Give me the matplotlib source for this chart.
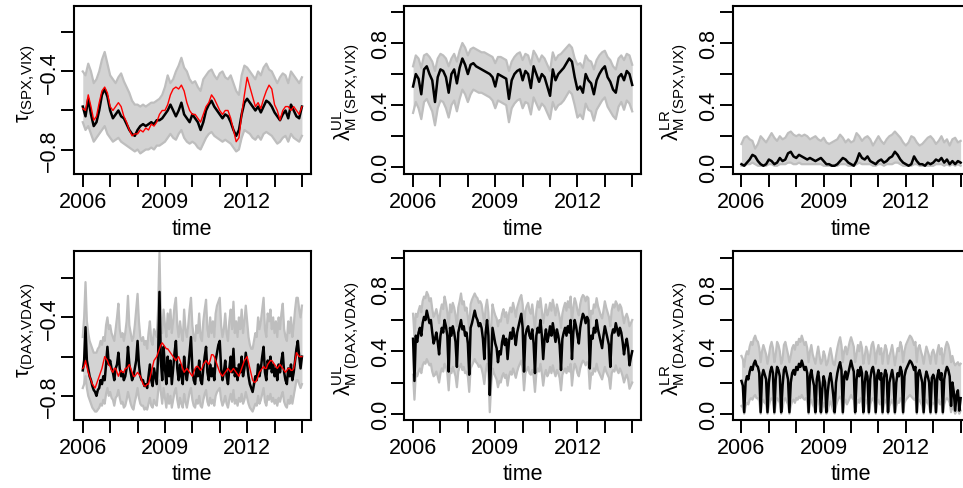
import numpy as np
import matplotlib
matplotlib.use("Agg")
import matplotlib.pyplot as plt

plt.rcParams['font.family'] = ['Liberation Sans', 'DejaVu Sans']
plt.rcParams['mathtext.fontset'] = 'custom'
plt.rcParams['mathtext.rm'] = 'Liberation Sans'
plt.rcParams['mathtext.it'] = 'Liberation Sans:italic'
plt.rcParams['mathtext.bf'] = 'Liberation Sans:bold'

# ---------------- data ----------------
time = np.linspace(2006.0, 2014.0, 81)        # 0.1-year grid (top row)
time_fine = np.linspace(2006.0, 2014.0, 161)  # 0.05-year grid (bottom row)

# panel 1: tau (SPX, VIX)
tau_spx_mid = [-0.58, -0.63, -0.54, -0.62, -0.68, -0.66, -0.60, -0.52, -0.49, -0.53,
               -0.60, -0.64, -0.62, -0.60, -0.63, -0.64, -0.67, -0.70, -0.72, -0.73,
               -0.70, -0.68, -0.67, -0.68, -0.67, -0.66, -0.67, -0.65, -0.65, -0.64,
               -0.62, -0.60, -0.57, -0.60, -0.63, -0.60, -0.56, -0.62, -0.64, -0.66,
               -0.62, -0.64, -0.66, -0.70, -0.66, -0.60, -0.57, -0.55, -0.58, -0.60,
               -0.62, -0.64, -0.62, -0.63, -0.66, -0.70, -0.73, -0.70, -0.62, -0.56,
               -0.54, -0.56, -0.58, -0.60, -0.58, -0.61, -0.58, -0.55, -0.56, -0.58,
               -0.61, -0.63, -0.65, -0.62, -0.60, -0.64, -0.57, -0.60, -0.63, -0.64,
               -0.58]
tau_spx_emp = [-0.59, -0.60, -0.52, -0.58, -0.65, -0.63, -0.56, -0.50, -0.48, -0.51,
               -0.58, -0.60, -0.58, -0.56, -0.58, -0.63, -0.66, -0.70, -0.73, -0.72,
               -0.72, -0.70, -0.71, -0.69, -0.70, -0.67, -0.68, -0.66, -0.62, -0.60,
               -0.60, -0.57, -0.52, -0.49, -0.48, -0.49, -0.47, -0.50, -0.56, -0.60,
               -0.62, -0.62, -0.64, -0.66, -0.62, -0.58, -0.56, -0.52, -0.54, -0.57,
               -0.60, -0.62, -0.60, -0.60, -0.64, -0.70, -0.76, -0.74, -0.62, -0.52,
               -0.43, -0.48, -0.53, -0.58, -0.56, -0.59, -0.54, -0.50, -0.47, -0.49,
               -0.57, -0.60, -0.65, -0.60, -0.58, -0.58, -0.60, -0.58, -0.60, -0.62,
               -0.58]
tau_spx_up = [-0.40, -0.42, -0.36, -0.40, -0.46, -0.44, -0.40, -0.34, -0.30, -0.36,
              -0.42, -0.44, -0.46, -0.43, -0.41, -0.45, -0.48, -0.51, -0.55, -0.57,
              -0.57, -0.58, -0.57, -0.58, -0.57, -0.56, -0.56, -0.55, -0.54, -0.52,
              -0.48, -0.42, -0.46, -0.44, -0.40, -0.37, -0.33, -0.38, -0.40, -0.44,
              -0.46, -0.45, -0.48, -0.50, -0.44, -0.42, -0.40, -0.39, -0.42, -0.44,
              -0.41, -0.40, -0.43, -0.44, -0.42, -0.46, -0.50, -0.52, -0.42, -0.37,
              -0.38, -0.40, -0.42, -0.44, -0.40, -0.42, -0.38, -0.36, -0.39, -0.40,
              -0.43, -0.46, -0.43, -0.41, -0.42, -0.46, -0.40, -0.42, -0.44, -0.46,
              -0.43]
tau_spx_lo = [-0.66, -0.70, -0.68, -0.72, -0.76, -0.74, -0.72, -0.70, -0.68, -0.72,
              -0.74, -0.76, -0.75, -0.74, -0.76, -0.77, -0.78, -0.79, -0.80, -0.81,
              -0.80, -0.82, -0.81, -0.80, -0.80, -0.79, -0.80, -0.78, -0.78, -0.77,
              -0.76, -0.74, -0.72, -0.74, -0.75, -0.72, -0.70, -0.74, -0.76, -0.77,
              -0.76, -0.77, -0.79, -0.80, -0.77, -0.74, -0.72, -0.71, -0.73, -0.74,
              -0.75, -0.76, -0.75, -0.76, -0.77, -0.79, -0.81, -0.80, -0.74, -0.70,
              -0.71, -0.72, -0.74, -0.75, -0.73, -0.75, -0.72, -0.71, -0.72, -0.73,
              -0.75, -0.77, -0.76, -0.74, -0.73, -0.76, -0.72, -0.74, -0.75, -0.76,
              -0.73]

# panel 2: upper tail dependence (SPX, VIX)
ul_spx_mid = [0.52, 0.60, 0.57, 0.47, 0.63, 0.65, 0.60, 0.56, 0.42, 0.58,
              0.63, 0.62, 0.58, 0.48, 0.60, 0.63, 0.54, 0.64, 0.70, 0.66,
              0.60, 0.66, 0.67, 0.65, 0.64, 0.63, 0.62, 0.61, 0.60, 0.58,
              0.52, 0.60, 0.59, 0.58, 0.57, 0.44, 0.56, 0.60, 0.62, 0.63,
              0.56, 0.62, 0.60, 0.51, 0.65, 0.60, 0.55, 0.60, 0.58, 0.52,
              0.46, 0.63, 0.56, 0.60, 0.62, 0.64, 0.67, 0.70, 0.68, 0.58,
              0.50, 0.52, 0.48, 0.60, 0.56, 0.54, 0.47, 0.56, 0.60, 0.63,
              0.65, 0.58, 0.55, 0.50, 0.48, 0.58, 0.60, 0.56, 0.62, 0.60,
              0.53]
ul_spx_up = [0.65, 0.72, 0.70, 0.64, 0.72, 0.73, 0.71, 0.68, 0.62, 0.70,
             0.73, 0.72, 0.70, 0.65, 0.70, 0.73, 0.68, 0.75, 0.80, 0.77,
             0.72, 0.76, 0.77, 0.76, 0.75, 0.74, 0.74, 0.73, 0.72, 0.71,
             0.67, 0.71, 0.71, 0.70, 0.69, 0.62, 0.68, 0.71, 0.73, 0.74,
             0.69, 0.73, 0.72, 0.66, 0.75, 0.72, 0.68, 0.72, 0.70, 0.66,
             0.62, 0.74, 0.69, 0.72, 0.73, 0.75, 0.77, 0.79, 0.77, 0.70,
             0.66, 0.67, 0.64, 0.72, 0.69, 0.68, 0.63, 0.69, 0.72, 0.74,
             0.75, 0.71, 0.69, 0.65, 0.63, 0.70, 0.72, 0.69, 0.73, 0.72,
             0.66]
ul_spx_lo = [0.35, 0.42, 0.38, 0.31, 0.42, 0.44, 0.40, 0.36, 0.27, 0.38,
             0.43, 0.42, 0.38, 0.32, 0.40, 0.43, 0.36, 0.44, 0.50, 0.47,
             0.42, 0.47, 0.50, 0.49, 0.48, 0.48, 0.47, 0.46, 0.45, 0.43,
             0.38, 0.43, 0.42, 0.41, 0.40, 0.29, 0.38, 0.41, 0.43, 0.44,
             0.38, 0.42, 0.41, 0.34, 0.45, 0.41, 0.37, 0.41, 0.39, 0.35,
             0.31, 0.42, 0.37, 0.40, 0.41, 0.43, 0.46, 0.49, 0.47, 0.40,
             0.32, 0.34, 0.31, 0.41, 0.37, 0.36, 0.30, 0.37, 0.40, 0.43,
             0.45, 0.39, 0.36, 0.33, 0.31, 0.39, 0.42, 0.37, 0.43, 0.41,
             0.36]

# panel 3: lower tail dependence (SPX, VIX)
lr_spx_mid = [0.02, 0.01, 0.03, 0.05, 0.08, 0.07, 0.04, 0.02, 0.01, 0.02,
              0.05, 0.04, 0.02, 0.03, 0.06, 0.04, 0.05, 0.09, 0.10, 0.07,
              0.06, 0.08, 0.07, 0.06, 0.05, 0.06, 0.05, 0.04, 0.05, 0.06,
              0.04, 0.02, 0.02, 0.01, 0.01, 0.02, 0.04, 0.06, 0.05, 0.03,
              0.02, 0.01, 0.04, 0.09, 0.06, 0.05, 0.07, 0.04, 0.03, 0.02,
              0.04, 0.05, 0.03, 0.04, 0.06, 0.07, 0.10, 0.08, 0.05, 0.03,
              0.02, 0.01, 0.02, 0.07, 0.04, 0.02, 0.02, 0.01, 0.03, 0.02,
              0.03, 0.05, 0.04, 0.06, 0.03, 0.05, 0.02, 0.04, 0.02, 0.04,
              0.03]
lr_spx_up = [0.15, 0.19, 0.20, 0.18, 0.17, 0.12, 0.15, 0.20, 0.18, 0.16,
             0.19, 0.22, 0.19, 0.17, 0.20, 0.18, 0.19, 0.22, 0.23, 0.21,
             0.20, 0.21, 0.20, 0.21, 0.20, 0.18, 0.19, 0.20, 0.18, 0.17,
             0.19, 0.16, 0.15, 0.16, 0.17, 0.18, 0.21, 0.19, 0.16, 0.18,
             0.16, 0.17, 0.22, 0.20, 0.17, 0.19, 0.20, 0.18, 0.14, 0.17,
             0.20, 0.17, 0.15, 0.18, 0.20, 0.21, 0.23, 0.21, 0.19, 0.16,
             0.14, 0.16, 0.20, 0.19, 0.16, 0.14, 0.15, 0.17, 0.19, 0.20,
             0.18, 0.15, 0.17, 0.20, 0.16, 0.18, 0.14, 0.18, 0.19, 0.16,
             0.17]
lr_spx_lo = [0.01, 0.01, 0.02, 0.02, 0.03, 0.02, 0.01, 0.01, 0.01, 0.01,
             0.02, 0.02, 0.01, 0.01, 0.02, 0.02, 0.02, 0.03, 0.03, 0.02,
             0.02, 0.03, 0.02, 0.02, 0.02, 0.02, 0.02, 0.02, 0.02, 0.02,
             0.01, 0.01, 0.01, 0.01, 0.01, 0.01, 0.02, 0.02, 0.02, 0.01,
             0.01, 0.01, 0.02, 0.03, 0.02, 0.02, 0.02, 0.02, 0.01, 0.01,
             0.02, 0.02, 0.01, 0.02, 0.02, 0.02, 0.03, 0.03, 0.02, 0.01,
             0.01, 0.01, 0.01, 0.02, 0.02, 0.01, 0.01, 0.01, 0.01, 0.01,
             0.01, 0.02, 0.02, 0.02, 0.01, 0.02, 0.01, 0.02, 0.01, 0.02,
             0.01]

# panel 4: tau (DAX, VDAX)  (0.05-year grid)
tau_dax_mid = [-0.67, -0.62, -0.45, -0.62, -0.66, -0.70, -0.72, -0.75, -0.77, -0.78,
               -0.80, -0.77, -0.76, -0.72, -0.74, -0.70, -0.72, -0.64, -0.55, -0.64,
               -0.62, -0.66, -0.68, -0.72, -0.66, -0.64, -0.58, -0.66, -0.70, -0.68,
               -0.72, -0.70, -0.66, -0.55, -0.64, -0.68, -0.72, -0.70, -0.66, -0.62,
               -0.52, -0.64, -0.70, -0.72, -0.72, -0.75, -0.74, -0.76, -0.70, -0.64,
               -0.72, -0.75, -0.66, -0.70, -0.74, -0.60, -0.27, -0.62, -0.72, -0.55,
               -0.66, -0.74, -0.60, -0.70, -0.62, -0.74, -0.66, -0.58, -0.52, -0.66,
               -0.72, -0.64, -0.70, -0.74, -0.60, -0.68, -0.72, -0.66, -0.58, -0.50,
               -0.66, -0.72, -0.74, -0.66, -0.70, -0.62, -0.72, -0.74, -0.66, -0.60,
               -0.55, -0.68, -0.72, -0.64, -0.70, -0.66, -0.72, -0.62, -0.58, -0.54,
               -0.52, -0.66, -0.72, -0.68, -0.62, -0.70, -0.74, -0.66, -0.60, -0.68,
               -0.56, -0.70, -0.66, -0.72, -0.64, -0.68, -0.60, -0.70, -0.66, -0.58,
               -0.64, -0.70, -0.74, -0.76, -0.78, -0.74, -0.70, -0.72, -0.64, -0.70,
               -0.66, -0.60, -0.55, -0.68, -0.72, -0.62, -0.66, -0.60, -0.68, -0.64,
               -0.70, -0.66, -0.72, -0.64, -0.68, -0.62, -0.58, -0.68, -0.72, -0.74,
               -0.66, -0.70, -0.64, -0.72, -0.68, -0.62, -0.56, -0.52, -0.60, -0.66,
               -0.60]
tau_dax_emp = [-0.66, -0.65, -0.62, -0.65, -0.68, -0.70, -0.72, -0.74, -0.75, -0.76,
               -0.74, -0.72, -0.70, -0.68, -0.66, -0.63, -0.60, -0.61, -0.62, -0.64,
               -0.65, -0.67, -0.68, -0.66, -0.66, -0.68, -0.70, -0.68, -0.67, -0.68,
               -0.68, -0.66, -0.66, -0.65, -0.64, -0.66, -0.68, -0.70, -0.70, -0.69,
               -0.68, -0.69, -0.70, -0.72, -0.74, -0.75, -0.75, -0.74, -0.74, -0.71,
               -0.68, -0.65, -0.62, -0.61, -0.60, -0.58, -0.56, -0.54, -0.53, -0.54,
               -0.55, -0.56, -0.56, -0.57, -0.58, -0.59, -0.60, -0.61, -0.62, -0.61,
               -0.60, -0.62, -0.64, -0.66, -0.68, -0.67, -0.66, -0.67, -0.68, -0.69,
               -0.70, -0.68, -0.66, -0.65, -0.65, -0.66, -0.67, -0.66, -0.64, -0.63,
               -0.62, -0.63, -0.64, -0.62, -0.59, -0.59, -0.60, -0.62, -0.64, -0.66,
               -0.68, -0.69, -0.70, -0.69, -0.68, -0.67, -0.66, -0.67, -0.68, -0.67,
               -0.66, -0.67, -0.68, -0.69, -0.70, -0.68, -0.66, -0.64, -0.62, -0.61,
               -0.60, -0.63, -0.66, -0.69, -0.72, -0.73, -0.73, -0.72, -0.70, -0.68,
               -0.67, -0.66, -0.65, -0.66, -0.66, -0.64, -0.63, -0.62, -0.62, -0.63,
               -0.64, -0.65, -0.66, -0.65, -0.64, -0.65, -0.66, -0.67, -0.68, -0.67,
               -0.66, -0.66, -0.67, -0.67, -0.66, -0.62, -0.58, -0.59, -0.60, -0.60,
               -0.60]
tau_dax_up = [-0.50, -0.40, -0.22, -0.42, -0.48, -0.52, -0.54, -0.56, -0.58, -0.58,
              -0.58, -0.56, -0.55, -0.52, -0.54, -0.50, -0.52, -0.44, -0.40, -0.46,
              -0.44, -0.48, -0.50, -0.52, -0.46, -0.40, -0.33, -0.46, -0.50, -0.48,
              -0.52, -0.48, -0.42, -0.29, -0.44, -0.48, -0.52, -0.50, -0.44, -0.36,
              -0.28, -0.42, -0.50, -0.52, -0.50, -0.54, -0.52, -0.56, -0.48, -0.42,
              -0.52, -0.54, -0.46, -0.48, -0.50, -0.36, -0.07, -0.40, -0.48, -0.36,
              -0.44, -0.50, -0.38, -0.46, -0.36, -0.48, -0.42, -0.34, -0.30, -0.44,
              -0.50, -0.42, -0.48, -0.52, -0.36, -0.46, -0.50, -0.44, -0.36, -0.30,
              -0.44, -0.50, -0.52, -0.44, -0.48, -0.38, -0.50, -0.52, -0.42, -0.36,
              -0.31, -0.46, -0.50, -0.40, -0.48, -0.42, -0.50, -0.38, -0.34, -0.32,
              -0.30, -0.44, -0.50, -0.46, -0.38, -0.48, -0.52, -0.42, -0.36, -0.46,
              -0.32, -0.48, -0.42, -0.50, -0.40, -0.46, -0.36, -0.48, -0.42, -0.34,
              -0.42, -0.50, -0.54, -0.56, -0.56, -0.52, -0.48, -0.50, -0.40, -0.46,
              -0.42, -0.36, -0.30, -0.46, -0.50, -0.38, -0.42, -0.36, -0.46, -0.40,
              -0.48, -0.42, -0.50, -0.40, -0.46, -0.38, -0.33, -0.46, -0.50, -0.52,
              -0.42, -0.48, -0.40, -0.50, -0.44, -0.36, -0.30, -0.30, -0.36, -0.40,
              -0.34]
tau_dax_lo = [-0.76, -0.74, -0.70, -0.76, -0.80, -0.82, -0.84, -0.86, -0.87, -0.88,
              -0.88, -0.87, -0.86, -0.84, -0.85, -0.82, -0.84, -0.79, -0.76, -0.80,
              -0.78, -0.81, -0.82, -0.85, -0.81, -0.80, -0.77, -0.81, -0.84, -0.83,
              -0.86, -0.85, -0.82, -0.78, -0.81, -0.84, -0.86, -0.87, -0.83, -0.80,
              -0.76, -0.81, -0.84, -0.85, -0.85, -0.87, -0.86, -0.87, -0.84, -0.81,
              -0.85, -0.86, -0.82, -0.84, -0.85, -0.78, -0.72, -0.78, -0.84, -0.76,
              -0.81, -0.86, -0.79, -0.84, -0.80, -0.86, -0.82, -0.78, -0.76, -0.82,
              -0.86, -0.81, -0.84, -0.86, -0.79, -0.83, -0.86, -0.82, -0.78, -0.76,
              -0.82, -0.85, -0.86, -0.82, -0.84, -0.80, -0.85, -0.86, -0.82, -0.79,
              -0.77, -0.83, -0.85, -0.81, -0.84, -0.82, -0.85, -0.80, -0.78, -0.77,
              -0.76, -0.82, -0.85, -0.83, -0.80, -0.84, -0.86, -0.82, -0.79, -0.83,
              -0.77, -0.84, -0.82, -0.85, -0.81, -0.83, -0.79, -0.84, -0.82, -0.78,
              -0.81, -0.84, -0.86, -0.87, -0.88, -0.86, -0.84, -0.85, -0.80, -0.84,
              -0.82, -0.79, -0.76, -0.83, -0.85, -0.80, -0.82, -0.79, -0.83, -0.81,
              -0.84, -0.82, -0.85, -0.81, -0.83, -0.80, -0.78, -0.83, -0.85, -0.86,
              -0.82, -0.84, -0.80, -0.84, -0.80, -0.76, -0.72, -0.72, -0.74, -0.76,
              -0.74]

# panel 5: upper tail dependence (DAX, VDAX)  (0.05-year grid)
ul_dax_mid = [0.48, 0.21, 0.50, 0.46, 0.52, 0.55, 0.50, 0.58, 0.62, 0.60,
              0.66, 0.62, 0.58, 0.60, 0.52, 0.45, 0.48, 0.52, 0.46, 0.38,
              0.50, 0.55, 0.52, 0.60, 0.56, 0.50, 0.27, 0.55, 0.50, 0.56,
              0.52, 0.46, 0.30, 0.52, 0.56, 0.60, 0.54, 0.56, 0.50, 0.52,
              0.45, 0.25, 0.55, 0.58, 0.62, 0.66, 0.62, 0.60, 0.56, 0.58,
              0.55, 0.48, 0.35, 0.52, 0.60, 0.50, 0.12, 0.35, 0.55, 0.50,
              0.45, 0.42, 0.33, 0.40, 0.38, 0.46, 0.50, 0.44, 0.48, 0.35,
              0.46, 0.52, 0.48, 0.55, 0.50, 0.44, 0.52, 0.56, 0.60, 0.64,
              0.55, 0.27, 0.50, 0.54, 0.56, 0.50, 0.48, 0.54, 0.45, 0.26,
              0.50, 0.55, 0.52, 0.60, 0.50, 0.35, 0.48, 0.54, 0.46, 0.50,
              0.56, 0.50, 0.58, 0.52, 0.46, 0.54, 0.50, 0.44, 0.28, 0.48,
              0.52, 0.55, 0.50, 0.56, 0.52, 0.60, 0.35, 0.52, 0.60, 0.56,
              0.50, 0.45, 0.55, 0.60, 0.64, 0.62, 0.58, 0.62, 0.60, 0.29,
              0.50, 0.48, 0.55, 0.52, 0.60, 0.54, 0.50, 0.46, 0.42, 0.50,
              0.56, 0.52, 0.48, 0.44, 0.30, 0.50, 0.54, 0.52, 0.58, 0.54,
              0.50, 0.55, 0.52, 0.46, 0.38, 0.44, 0.48, 0.42, 0.31, 0.36,
              0.40]
ul_dax_up = [0.64, 0.50, 0.64, 0.62, 0.66, 0.69, 0.65, 0.72, 0.75, 0.74,
             0.78, 0.76, 0.72, 0.74, 0.67, 0.62, 0.64, 0.67, 0.63, 0.58,
             0.66, 0.70, 0.67, 0.75, 0.71, 0.65, 0.55, 0.70, 0.65, 0.71,
             0.68, 0.63, 0.56, 0.68, 0.72, 0.77, 0.70, 0.72, 0.66, 0.68,
             0.62, 0.54, 0.70, 0.73, 0.75, 0.77, 0.75, 0.74, 0.71, 0.72,
             0.70, 0.64, 0.57, 0.68, 0.73, 0.65, 0.45, 0.56, 0.70, 0.66,
             0.63, 0.61, 0.56, 0.60, 0.59, 0.64, 0.67, 0.62, 0.65, 0.58,
             0.64, 0.68, 0.65, 0.71, 0.67, 0.62, 0.68, 0.71, 0.74, 0.76,
             0.70, 0.54, 0.66, 0.69, 0.71, 0.66, 0.64, 0.70, 0.62, 0.54,
             0.66, 0.72, 0.68, 0.74, 0.66, 0.58, 0.64, 0.70, 0.63, 0.66,
             0.71, 0.66, 0.73, 0.68, 0.63, 0.70, 0.66, 0.62, 0.55, 0.64,
             0.68, 0.71, 0.66, 0.72, 0.68, 0.75, 0.58, 0.68, 0.74, 0.71,
             0.66, 0.63, 0.70, 0.74, 0.76, 0.75, 0.72, 0.75, 0.74, 0.55,
             0.66, 0.64, 0.70, 0.68, 0.74, 0.69, 0.66, 0.63, 0.61, 0.66,
             0.72, 0.68, 0.65, 0.62, 0.56, 0.66, 0.70, 0.68, 0.72, 0.70,
             0.66, 0.70, 0.68, 0.63, 0.58, 0.62, 0.64, 0.61, 0.56, 0.58,
             0.60]
ul_dax_lo = [0.25, 0.09, 0.26, 0.24, 0.27, 0.29, 0.26, 0.31, 0.33, 0.32,
             0.35, 0.33, 0.31, 0.32, 0.27, 0.24, 0.25, 0.27, 0.24, 0.20,
             0.26, 0.29, 0.27, 0.32, 0.30, 0.26, 0.15, 0.29, 0.26, 0.30,
             0.27, 0.24, 0.17, 0.27, 0.30, 0.32, 0.28, 0.30, 0.26, 0.27,
             0.24, 0.14, 0.29, 0.31, 0.33, 0.35, 0.33, 0.32, 0.30, 0.31,
             0.29, 0.25, 0.19, 0.27, 0.32, 0.26, 0.01, 0.18, 0.29, 0.26,
             0.24, 0.22, 0.17, 0.21, 0.20, 0.24, 0.26, 0.23, 0.25, 0.18,
             0.24, 0.27, 0.25, 0.29, 0.26, 0.23, 0.27, 0.30, 0.32, 0.34,
             0.29, 0.15, 0.26, 0.28, 0.30, 0.26, 0.25, 0.28, 0.24, 0.14,
             0.26, 0.29, 0.27, 0.32, 0.26, 0.18, 0.25, 0.28, 0.24, 0.26,
             0.30, 0.26, 0.31, 0.27, 0.24, 0.28, 0.26, 0.23, 0.15, 0.25,
             0.27, 0.29, 0.26, 0.30, 0.27, 0.32, 0.18, 0.27, 0.32, 0.30,
             0.26, 0.24, 0.29, 0.32, 0.34, 0.33, 0.31, 0.33, 0.32, 0.16,
             0.26, 0.25, 0.29, 0.27, 0.32, 0.28, 0.26, 0.24, 0.22, 0.26,
             0.30, 0.27, 0.25, 0.23, 0.16, 0.26, 0.28, 0.27, 0.31, 0.28,
             0.26, 0.29, 0.27, 0.24, 0.20, 0.23, 0.25, 0.22, 0.16, 0.18,
             0.20]

# panel 6: lower tail dependence (DAX, VDAX)  (0.05-year grid)
lr_dax_mid = [0.21, 0.18, 0.01, 0.20, 0.24, 0.22, 0.27, 0.30, 0.28, 0.32,
              0.34, 0.31, 0.30, 0.26, 0.01, 0.24, 0.28, 0.25, 0.22, 0.01,
              0.20, 0.27, 0.30, 0.26, 0.01, 0.22, 0.30, 0.28, 0.24, 0.01,
              0.18, 0.28, 0.30, 0.26, 0.22, 0.01, 0.20, 0.26, 0.28, 0.25,
              0.30, 0.28, 0.32, 0.30, 0.34, 0.31, 0.28, 0.30, 0.26, 0.01,
              0.24, 0.28, 0.22, 0.18, 0.01, 0.22, 0.27, 0.20, 0.01, 0.16,
              0.24, 0.20, 0.01, 0.14, 0.22, 0.26, 0.20, 0.12, 0.01, 0.20,
              0.26, 0.30, 0.33, 0.28, 0.01, 0.24, 0.27, 0.22, 0.26, 0.30,
              0.34, 0.30, 0.27, 0.01, 0.22, 0.28, 0.24, 0.30, 0.26, 0.01,
              0.20, 0.27, 0.24, 0.01, 0.22, 0.28, 0.30, 0.25, 0.01, 0.24,
              0.28, 0.22, 0.26, 0.01, 0.23, 0.28, 0.25, 0.01, 0.20, 0.24,
              0.28, 0.22, 0.01, 0.20, 0.26, 0.24, 0.30, 0.27, 0.01, 0.24,
              0.28, 0.30, 0.32, 0.34, 0.33, 0.31, 0.28, 0.30, 0.01, 0.26,
              0.28, 0.24, 0.20, 0.01, 0.22, 0.27, 0.24, 0.20, 0.01, 0.23,
              0.25, 0.22, 0.01, 0.24, 0.28, 0.22, 0.26, 0.01, 0.22, 0.27,
              0.30, 0.28, 0.24, 0.05, 0.20, 0.14, 0.02, 0.12, 0.15, 0.02,
              0.10]
lr_dax_up = [0.37, 0.35, 0.30, 0.37, 0.40, 0.38, 0.43, 0.46, 0.44, 0.48,
             0.50, 0.47, 0.46, 0.42, 0.33, 0.40, 0.44, 0.41, 0.38, 0.32,
             0.37, 0.43, 0.46, 0.42, 0.33, 0.38, 0.46, 0.44, 0.40, 0.32,
             0.35, 0.44, 0.46, 0.42, 0.38, 0.33, 0.37, 0.42, 0.44, 0.41,
             0.46, 0.44, 0.48, 0.46, 0.50, 0.47, 0.44, 0.46, 0.42, 0.33,
             0.40, 0.44, 0.38, 0.35, 0.32, 0.38, 0.43, 0.37, 0.32, 0.34,
             0.40, 0.37, 0.31, 0.33, 0.38, 0.42, 0.37, 0.32, 0.31, 0.37,
             0.42, 0.46, 0.49, 0.44, 0.33, 0.40, 0.43, 0.38, 0.42, 0.46,
             0.49, 0.46, 0.43, 0.33, 0.38, 0.44, 0.40, 0.46, 0.42, 0.32,
             0.37, 0.43, 0.40, 0.32, 0.38, 0.44, 0.46, 0.41, 0.32, 0.40,
             0.44, 0.38, 0.42, 0.32, 0.39, 0.44, 0.41, 0.32, 0.37, 0.40,
             0.44, 0.38, 0.31, 0.37, 0.42, 0.40, 0.46, 0.43, 0.33, 0.40,
             0.44, 0.46, 0.48, 0.50, 0.49, 0.47, 0.44, 0.46, 0.33, 0.42,
             0.44, 0.40, 0.37, 0.32, 0.38, 0.43, 0.40, 0.37, 0.32, 0.39,
             0.41, 0.38, 0.32, 0.40, 0.44, 0.38, 0.42, 0.32, 0.38, 0.43,
             0.46, 0.44, 0.40, 0.33, 0.37, 0.33, 0.31, 0.32, 0.33, 0.31,
             0.32]
lr_dax_lo = [0.05, 0.04, 0.00, 0.05, 0.07, 0.06, 0.09, 0.10, 0.09, 0.11,
             0.12, 0.10, 0.10, 0.08, 0.00, 0.07, 0.09, 0.07, 0.06, 0.00,
             0.05, 0.09, 0.10, 0.08, 0.00, 0.06, 0.10, 0.09, 0.07, 0.00,
             0.04, 0.09, 0.10, 0.08, 0.06, 0.00, 0.05, 0.08, 0.09, 0.07,
             0.10, 0.09, 0.11, 0.10, 0.12, 0.10, 0.09, 0.10, 0.08, 0.00,
             0.07, 0.09, 0.06, 0.04, 0.00, 0.06, 0.09, 0.05, 0.00, 0.03,
             0.07, 0.05, 0.00, 0.02, 0.06, 0.08, 0.05, 0.02, 0.00, 0.05,
             0.08, 0.10, 0.11, 0.09, 0.00, 0.07, 0.09, 0.06, 0.08, 0.10,
             0.12, 0.10, 0.09, 0.00, 0.06, 0.09, 0.07, 0.10, 0.08, 0.00,
             0.05, 0.09, 0.07, 0.00, 0.06, 0.09, 0.10, 0.07, 0.00, 0.07,
             0.09, 0.06, 0.08, 0.00, 0.06, 0.09, 0.07, 0.00, 0.05, 0.07,
             0.09, 0.06, 0.00, 0.05, 0.08, 0.07, 0.10, 0.09, 0.00, 0.07,
             0.09, 0.10, 0.11, 0.12, 0.11, 0.10, 0.09, 0.10, 0.00, 0.08,
             0.09, 0.07, 0.05, 0.00, 0.06, 0.09, 0.07, 0.05, 0.00, 0.06,
             0.07, 0.06, 0.00, 0.07, 0.09, 0.06, 0.08, 0.00, 0.06, 0.09,
             0.10, 0.09, 0.07, 0.01, 0.05, 0.03, 0.00, 0.02, 0.03, 0.00,
             0.02]

year_ticks = [2006, 2007, 2008, 2009, 2010, 2011, 2012, 2013, 2014]
year_labels = ['2006', '', '', '2009', '', '', '2012', '', '']
tau_ticks = [-0.8, -0.6, -0.4, -0.2]
tau_labels = ['\u22120.8', '', '\u22120.4', '']
lam_ticks = [0.0, 0.2, 0.4, 0.6, 0.8, 1.0]
lam_labels = ['0.0', '', '0.4', '', '0.8', '']

# ---------------- layout (pixels) ----------------
W, H = 963, 489
fig = plt.figure(figsize=(W / 100, H / 100), dpi=100)

col_left = [74, 404.3, 732.7]
box_w = 236.7
row_top = [6.7, 252.3]
row_bot = [174.5, 421.0]

FS = 15.5
BAND_FILL = '#d3d3d3'
BAND_EDGE = '#bebebe'


def make_axes(r, c):
    l = col_left[c]
    t, b = row_top[r], row_bot[r]
    ax = fig.add_axes([l / W, 1 - b / H, box_w / W, (b - t) / H])
    for s in ax.spines.values():
        s.set_linewidth(1.5)
    ax.tick_params(direction='out', length=9.3, width=1.4, labelsize=FS, pad=3)
    ax.set_xlim(2005.68, 2014.32)
    ax.set_xticks(year_ticks)
    ax.set_xticklabels(year_labels)
    return ax


def band(ax, t, lo, up):
    ax.fill_between(t, lo, up, color=BAND_FILL, lw=0, zorder=1)
    ax.plot(t, up, color=BAND_EDGE, lw=1.6, zorder=2)
    ax.plot(t, lo, color=BAND_EDGE, lw=1.6, zorder=2)


def yaxis(ax, ticks, labels, lim):
    ax.set_ylim(*lim)
    ax.set_yticks(ticks)
    ax.set_yticklabels(labels)
    for lb in ax.get_yticklabels():
        lb.set_rotation(90)
        lb.set_va('center')
    ax.tick_params(axis='y', pad=0.5)


def xlabel(r, c):
    cx = col_left[c] + box_w / 2
    cy = [230, 475][r]
    fig.text(cx / W, 1 - cy / H, 'time', ha='center', va='center', fontsize=FS)


def ylabel(text, r, c, dx, dy):
    cy = (row_top[r] + row_bot[r]) / 2 + dy
    fig.text((col_left[c] - dx) / W, 1 - cy / H, text, rotation=90,
             ha='center', va='center', fontsize=FS)


panels = [
    (0, 0, 'tau', time, tau_spx_lo, tau_spx_up, tau_spx_mid, tau_spx_emp,
     r'$\mathregular{τ_{(SPX{,}VIX)}}$'),
    (0, 1, 'lam', time, ul_spx_lo, ul_spx_up, ul_spx_mid, None,
     r'$\mathregular{λ_{M\ (SPX{,}VIX)}^{UL}}$'),
    (0, 2, 'lam', time, lr_spx_lo, lr_spx_up, lr_spx_mid, None,
     r'$\mathregular{λ_{M\ (SPX{,}VIX)}^{LR}}$'),
    (1, 0, 'tau', time_fine, tau_dax_lo, tau_dax_up, tau_dax_mid, tau_dax_emp,
     r'$\mathregular{τ_{(DAX{,}VDAX)}}$'),
    (1, 1, 'lam', time_fine, ul_dax_lo, ul_dax_up, ul_dax_mid, None,
     r'$\mathregular{λ_{M\ (DAX{,}VDAX)}^{UL}}$'),
    (1, 2, 'lam', time_fine, lr_dax_lo, lr_dax_up, lr_dax_mid, None,
     r'$\mathregular{λ_{M\ (DAX{,}VDAX)}^{LR}}$'),
]

for r, c, kind, t, lo, up, mid, emp, lab in panels:
    ax = make_axes(r, c)
    band(ax, t, lo, up)
    ax.plot(t, mid, color='black', lw=1.8, zorder=3)
    if emp is not None:
        ax.plot(t, emp, color='red', lw=1.0, zorder=4)
    if kind == 'tau':
        yaxis(ax, tau_ticks, tau_labels, (-0.923, -0.063))
        ylabel(lab, r, c, 47, -7)
    else:
        yaxis(ax, lam_ticks, lam_labels, (-0.04, 1.04))
        ylabel(lab, r, c, 58, 2)
    xlabel(r, c)

fig.savefig('out.png', dpi=100)
